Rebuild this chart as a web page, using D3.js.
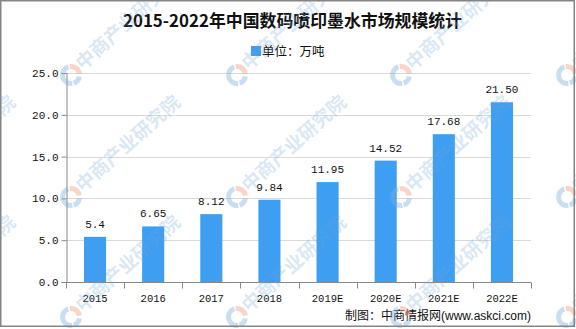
<!DOCTYPE html>
<html>
<head>
<meta charset="utf-8">
<script src="https://cdn.jsdelivr.net/npm/d3@7"></script>
<style>
  html, body { margin: 0; padding: 0; background: #fff; }
  svg { display: block; }
</style>
</head>
<body>
<svg id="chart" width="576" height="329"></svg>
<script>
// Data
const years = ["2015", "2016", "2017", "2018", "2019E", "2020E", "2021E", "2022E"];
const values = [5.4, 6.65, 8.12, 9.84, 11.95, 14.52, 17.68, 21.50];
const valueLabels = ["5.4", "6.65", "8.12", "9.84", "11.95", "14.52", "17.68", "21.50"];
const yTicks = [0, 5, 10, 15, 20, 25];
const titleText = "2015-2022年中国数码喷印墨水市场规模统计";
const legendText = "单位：万吨";
const sourceText = "制图：中商情报网";
const sourceUrl = "(www.askci.com)";
const watermarkText = "中商产业研究院";

const svg = d3.select("#chart");
const W = 576, H = 329;
const margin = { left: 66, right: 45, top: 73, bottom: 47 };
const plotW = W - margin.left - margin.right;
const plotH = H - margin.top - margin.bottom;

const x = d3.scaleBand().domain(years).range([margin.left, margin.left + plotW]).paddingInner(0.62).paddingOuter(0.31);
const xEdge = d3.scaleBand().domain(years).range([margin.left, margin.left + plotW]);
const y = d3.scaleLinear().domain([0, 25]).range([margin.top + plotH, margin.top]);

const barColor = "#3e9ef2";

// Title
svg.append("text")
  .attr("x", 292.5).attr("y", 27)
  .attr("text-anchor", "middle")
  .attr("textLength", 339).attr("lengthAdjust", "spacingAndGlyphs")
  .style("font-family", "'Noto Sans CJK SC', sans-serif")
  .style("font-size", "17px").style("font-weight", "bold").style("fill", "#111")
  .text(titleText);

// Legend
svg.append("rect").attr("x", 251).attr("y", 46).attr("width", 10).attr("height", 10).attr("fill", barColor);
svg.append("text")
  .attr("x", 262).attr("y", 56)
  .style("font-family", "'Noto Sans CJK SC', sans-serif")
  .style("font-size", "12.5px").style("fill", "#111")
  .text(legendText);

// Gridlines
svg.append("g").selectAll("line").data(yTicks.filter(d => d > 0)).join("line")
  .attr("x1", margin.left).attr("x2", margin.left + plotW)
  .attr("y1", d => Math.round(y(d)) + 0.5).attr("y2", d => Math.round(y(d)) + 0.5)
  .attr("stroke", "#d9d9d9").attr("stroke-width", 1);

// Y axis
const yAxis = d3.axisLeft(y).tickValues(yTicks).tickFormat(d3.format(".1f")).tickSize(5).tickPadding(3);
const gy = svg.append("g").attr("transform", `translate(${margin.left + 0.5},0)`).call(yAxis);
gy.select(".domain").attr("stroke", "#888");
gy.selectAll(".tick line").attr("stroke", "#888");
gy.selectAll(".tick text")
  .style("font-family", "'Liberation Mono', monospace")
  .style("font-size", "11px").style("fill", "#111");

// X axis with ticks on band edges
const xAxisG = svg.append("g").attr("transform", `translate(0,${Math.round(y(0)) + 0.5})`);
xAxisG.append("line").attr("x1", margin.left).attr("x2", margin.left + plotW).attr("stroke", "#888");
const edges = years.map(d => xEdge(d)).concat([margin.left + plotW]);
xAxisG.selectAll("line.tk").data(edges).join("line").attr("class", "tk")
  .attr("x1", d => Math.round(d) + 0.5).attr("x2", d => Math.round(d) + 0.5)
  .attr("y1", 0).attr("y2", 6).attr("stroke", "#888");
xAxisG.selectAll("text").data(years).join("text")
  .attr("x", d => x(d) + x.bandwidth() / 2).attr("y", 19)
  .attr("text-anchor", "middle")
  .style("font-family", "'Liberation Mono', monospace")
  .style("font-size", "10.5px").style("fill", "#111")
  .text(d => d);

// Bars
svg.append("g").selectAll("rect").data(values).join("rect")
  .attr("x", (d, i) => x(years[i]))
  .attr("y", d => y(d))
  .attr("width", x.bandwidth())
  .attr("height", d => y(0) - y(d))
  .attr("fill", barColor);

// Value labels
svg.append("g").selectAll("text").data(values).join("text")
  .attr("x", (d, i) => x(years[i]) + x.bandwidth() / 2)
  .attr("y", d => y(d) - 9)
  .attr("text-anchor", "middle")
  .style("font-family", "'Liberation Mono', monospace")
  .style("font-size", "11px").style("fill", "#111")
  .text((d, i) => valueLabels[i]);

// Source note
const src = svg.append("text")
  .attr("x", 531).attr("y", 320)
  .attr("text-anchor", "end")
  .style("font-family", "'Noto Sans CJK SC', sans-serif")
  .style("fill", "#111");
src.append("tspan").style("font-size", "12px").text(sourceText);
src.append("tspan").style("font-size", "12px").style("font-family", "'Liberation Sans', sans-serif").text(sourceUrl);

// Watermark pattern
const wmCols = [-94, 71, 237, 401, 567];
const wmRows = [75, 197, 317];
const wm = svg.append("g").attr("pointer-events", "none");
const arcOuter = 11, arcInner = 6;
const arc = d3.arc().innerRadius(arcInner).outerRadius(arcOuter);
wmRows.forEach(cy => wmCols.forEach(cx => {
  const g = wm.append("g").attr("transform", `translate(${cx},${cy})`);
  g.append("path").attr("d", arc({ startAngle: Math.PI * 0.95, endAngle: Math.PI * 1.9 }))
    .attr("fill", "rgba(120,175,220,0.4)");
  g.append("path").attr("d", arc({ startAngle: -Math.PI * 0.05, endAngle: Math.PI * 0.45 }))
    .attr("fill", "rgba(240,150,120,0.4)");
  g.append("path").attr("d", arc({ startAngle: Math.PI * 0.55, endAngle: Math.PI * 0.9 }))
    .attr("fill", "rgba(120,175,220,0.4)");
  g.append("text")
    .attr("transform", "translate(12,-4) rotate(-42)")
    .style("font-family", "'Noto Sans CJK SC', sans-serif")
    .style("font-size", "19px").style("font-weight", "bold")
    .style("fill", "rgba(110,165,215,0.27)")
    .text(watermarkText);
}));

// Frame
svg.append("rect").attr("x", 0.75).attr("y", 0.75).attr("width", 573.5).attr("height", 325.5)
  .attr("fill", "none").attr("stroke", "#858585").attr("stroke-width", 1.5);
</script>
</body>
</html>
